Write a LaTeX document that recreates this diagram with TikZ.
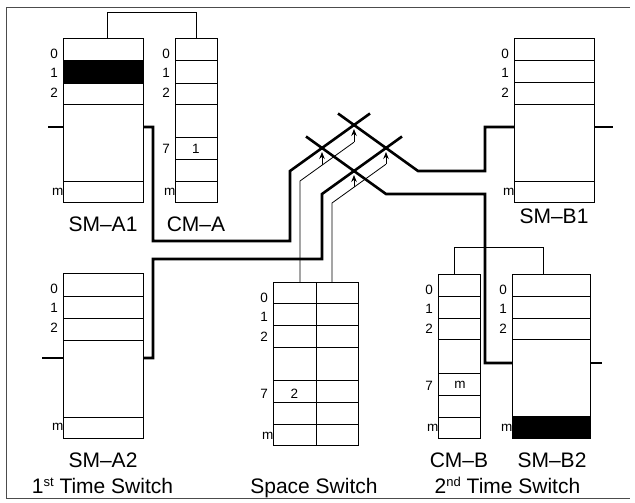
\documentclass[tikz,border=0pt]{standalone}
\usepackage{fontspec}
\setmainfont{Liberation Sans}
\usetikzlibrary{calc,arrows.meta}
\newcommand{\memrows}[2]{\foreach \o in {#2}{\draw[rowline] ($(#1.north west)+(0,\o)$) -- ($(#1.north east)+(0,\o)$);}}
\newcommand{\memlabels}[1]{%
  \node[dig] (#1-n0) at ($(#1.north west)+(-5,15.5)$) {0};
  \node[dig] (#1-n1) at ($(#1.north west)+(-5,35)$) {1};
  \node[dig] (#1-n2) at ($(#1.north west)+(-5,55)$) {2};
  \node[dig] (#1-nm) at ($(#1.north west)+(0.5,154)$) {m};}
\newcommand{\ordsup}[1]{\raisebox{6.5pt}{\fontsize{13}{13}\selectfont #1}}
\begin{document}
\begin{tikzpicture}[x=1pt,y=-1pt,
  mem/.style={draw,line width=0.9pt,rectangle,inner sep=0,outer sep=0,anchor=north west,minimum height=164pt},
  rowline/.style={line width=0.8pt},
  trunk/.style={line width=2.6pt,line join=miter},
  ctrl/.style={line width=0.8pt},
  ctrlarrow/.style={line width=0.8pt,-{Stealth[length=7pt,width=5.5pt]}},
  dig/.style={font=\fontsize{13.5}{13.5}\selectfont,inner sep=0,anchor=east},
  lbl/.style={font=\fontsize{21}{21}\selectfont,inner sep=0,anchor=base},
  framestyle/.style={line width=0.7pt,draw=black!70},
]
\useasboundingbox (0,0) rectangle (635,503);
% frame
\coordinate (f1) at (630,7);
\coordinate (f2) at (6,7);
\coordinate (f3) at (6,498);
\coordinate (f4) at (630,498);
\draw[framestyle] (f1) -- (f2) -- (f3) -- (f4);

% memories
\node[mem,minimum width=80pt] (smA1) at (63,38) {};
\node[mem,minimum width=42pt] (cmA) at (175,38) {};
\node[mem,minimum width=80pt] (smB1) at (514,38) {};
\node[mem,minimum width=80pt,minimum height=165pt] (smA2) at (63,273) {};
\node[mem,minimum width=85pt,minimum height=163pt] (space) at (273,282) {};
\node[mem,minimum width=42pt] (cmB) at (438,274) {};
\node[mem,minimum width=78pt] (smB2) at (512,274) {};

\fill ($(smA1.north west)+(0,22)$) rectangle ($(smA1.north east)+(0,45)$);
\fill ($(smB2.north west)+(0,142)$) rectangle (smB2.south east);

\memrows{smA1}{22,45,66,143}
\memrows{smB1}{22,44,66,143}
\memrows{smA2}{23,45,67,144}
\memrows{smB2}{22,44,65}
\memrows{cmA}{22,45,66,99,121,143}
\memrows{cmB}{22,44,65,99,121,143}
\memrows{space}{21,43,65,98,120,142}
\draw[rowline] ($(space.north west)+(43,0)$) -- ($(space.south west)+(43,0)$);

\memlabels{smA1}
\memlabels{cmA}
\memlabels{smB1}
\memlabels{smA2}
\memlabels{space}
\memlabels{cmB}
\memlabels{smB2}
\node[dig] (cmA-n7) at ($(cmA.north west)+(-5,111)$) {7};
\node[dig] (space-n7) at ($(space.north west)+(-5,112)$) {7};
\node[dig] (cmB-n7) at ($(cmB.north west)+(-5,112)$) {7};
\node[dig,anchor=center] (cmA-v7) at ($(cmA.north)+(0,111)$) {1};
\node[dig,anchor=center] (space-v7) at ($(space.north west)+(21.5,112)$) {2};
\node[dig,anchor=center] (cmB-v7) at ($(cmB.north)+(1,111)$) {m};

% captions
\node[lbl] (lab-smA1) at (103,231) {SM–A1};
\node[lbl] (lab-cmA) at (196,231) {CM–A};
\node[lbl] (lab-smB1) at (554,223) {SM–B1};
\node[lbl] (lab-smA2) at (103,467) {SM–A2};
\node[lbl] (lab-cmB) at (459,467) {CM–B};
\node[lbl] (lab-smB2) at (552,467) {SM–B2};
\node[lbl] (lab-ts1) at (102.5,493) {1\ordsup{st} Time Switch};
\node[lbl] (lab-ss) at (314,493) {Space Switch};
\node[lbl] (lab-ts2) at (507.5,493) {2\ordsup{nd} Time Switch};

% control memory brackets
\draw[ctrl] ($(smA1.north)+(4,0)$) -- ++(0,-26) -| (cmA.north);
\draw[ctrl] ($(cmB.north)+(-5,0)$) -- ++(0,-27) -| ($(smB2.north)+(-8,0)$);

% crosspoints
\coordinate (P1) at (322,148);
\coordinate (P2) at (354,125);
\coordinate (P3) at (354,171);
\coordinate (P4) at (386,148);

% trunks
\coordinate (a1in) at (48,127);
\coordinate (a1end) at (370,113.5);
\draw[trunk] (a1in) -- (smA1.west |- a1in);
\draw[trunk] (smA1.east |- a1in) -- (153,127) -- (153,241) -- (290,241) -- (290,171) -- (P1) -- (P2) -- (a1end);

\coordinate (a2in) at (42,358);
\coordinate (a2end) at (402,136.5);
\draw[trunk] (a2in) -- (smA2.west |- a2in);
\draw[trunk] (smA2.east |- a2in) -- (153,358) -- (153,259) -- (322,259) -- (322,194) -- (P3) -- (P4) -- (a2end);

\coordinate (b2start) at (306,136.5);
\coordinate (b2in) at (485,363);
\coordinate (b2out) at (602,363);
\draw[trunk] (b2start) -- (P1) -- (P3) -- (386,194) -- (485,194) -- (b2in) -- (smB2.west |- b2in);
\draw[trunk] (smB2.east |- b2out) -- (b2out);

\coordinate (b1start) at (338,113.5);
\coordinate (b1in) at (485,127);
\coordinate (b1out) at (613,127);
\draw[trunk] (b1start) -- (P2) -- (P4) -- (418,171) -- (485,171) -- (b1in) -- (smB1.west |- b1in);
\draw[trunk] (smB1.east |- b1out) -- (b1out);

% control lines from space switch
\coordinate (c1a) at (300,181);
\coordinate (c1b) at (322,165.2);
\coordinate (c1c) at (354,142.2);
\draw[ctrl] ($(space.north west)+(27,0)$) -- (c1a) -- (c1c);
\draw[ctrlarrow] (c1c) -- ($(P2)+(0,4)$);
\draw[ctrlarrow] (c1b) -- ($(P1)+(0,4)$);
\coordinate (c2a) at (332,203);
\coordinate (c2b) at (354,187.2);
\coordinate (c2c) at (386,164.2);
\draw[ctrl] ($(space.north west)+(59,0)$) -- (c2a) -- (c2c);
\draw[ctrlarrow] (c2c) -- ($(P4)+(0,4)$);
\draw[ctrlarrow] (c2b) -- ($(P3)+(0,4)$);
\end{tikzpicture}
\end{document}
